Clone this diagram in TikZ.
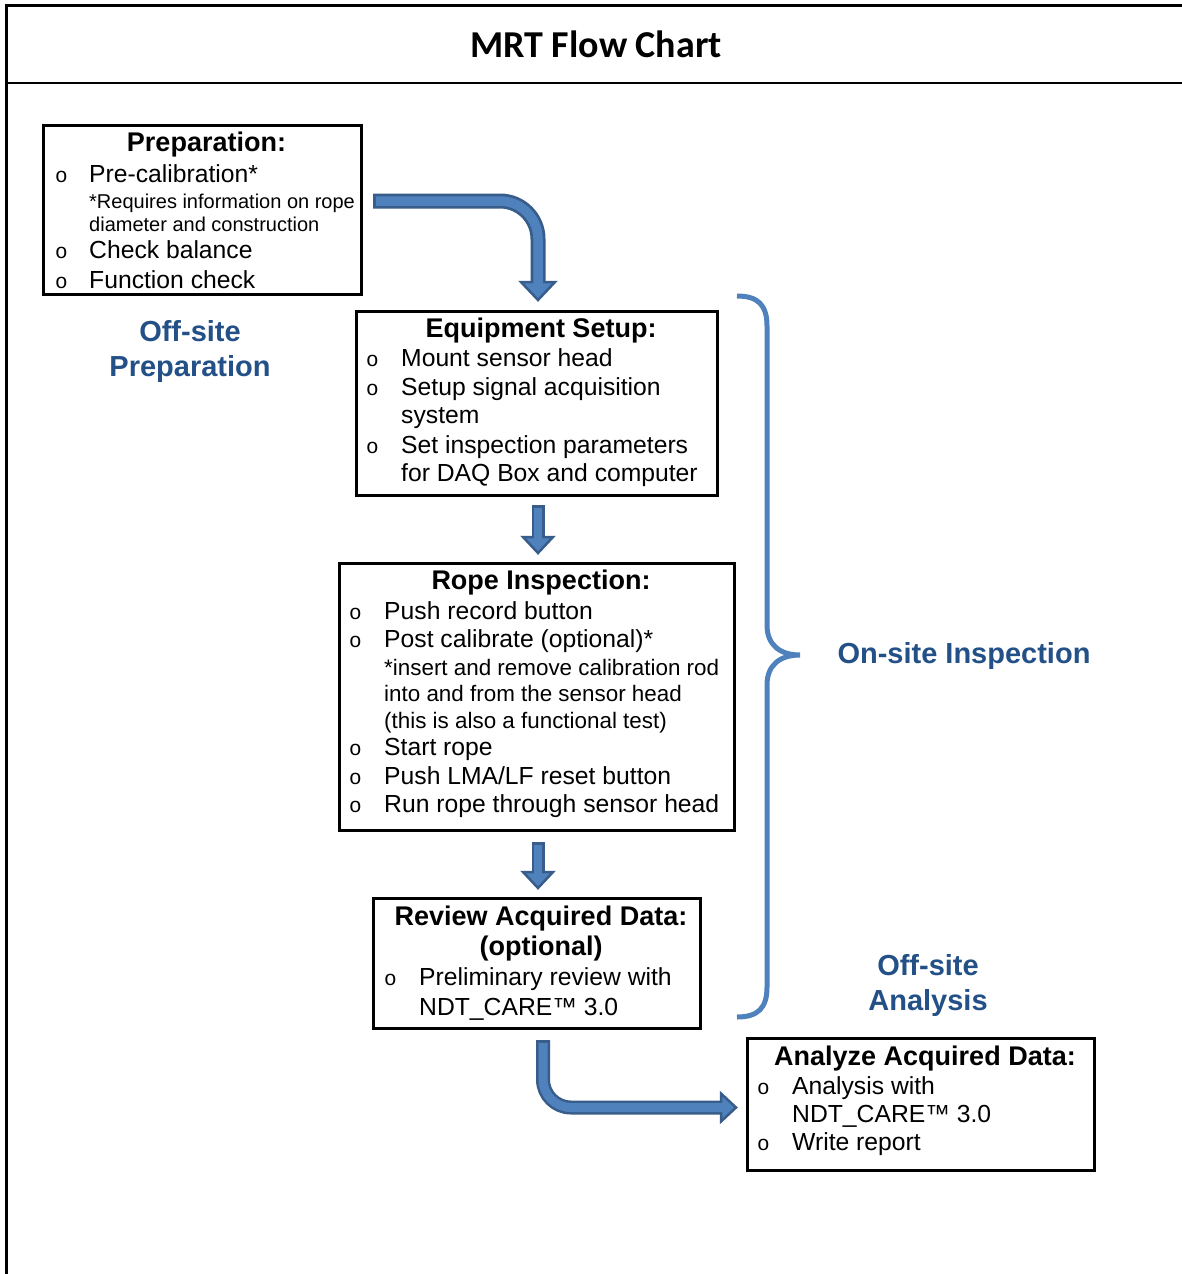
\documentclass[tikz,border=0pt]{standalone}
\usepackage{fontspec}
\setmainfont{Liberation Sans}
\newfontfamily\titlefont{Carlito}
\newfontfamily\bulletfont{Liberation Mono}
\usetikzlibrary{calc}
\definecolor{arrowfill}{HTML}{4F81BD}
\definecolor{arrowline}{HTML}{385D8A}
\definecolor{bracecol}{HTML}{4F81BD}
\definecolor{labelblue}{RGB}{35,80,135}
\tikzset{
  box/.style={draw=black, line width=3pt, inner sep=0pt},
  headtxt/.style={font=\bfseries\fontsize{27}{30}\selectfont, anchor=base, inner sep=0pt},
  itm/.style={font=\fontsize{24.7}{28}\selectfont, anchor=base west, inner sep=0pt},
  notetxt/.style={font=\fontsize{22.4}{25}\selectfont, anchor=base west, inner sep=0pt},
  smallnote/.style={font=\fontsize{20}{23}\selectfont, anchor=base west, inner sep=0pt},
  bul/.style={font=\bulletfont\fontsize{21}{23}\selectfont, anchor=base west, inner sep=0pt},
  lbl/.style={font=\bfseries\fontsize{29}{32}\selectfont, text=labelblue, anchor=base, inner sep=0pt},
  shaftout/.style={draw=arrowline, line width=#1},
  shaftin/.style={draw=arrowfill, line width=#1, shorten <=2.75pt, shorten >=-3pt},
  headst/.style={fill=arrowfill, draw=arrowline, line width=2.5pt, line join=miter},
}
\begin{document}
\begin{tikzpicture}[x=1pt, y=-1pt]
\useasboundingbox (0,0) rectangle (1182,1274);
\fill[white] (0,0) rectangle (1182,1274);
% frame
\draw[line width=3pt] (6,1274) -- (6,5) -- (1182,5);
\draw[line width=2.5pt] (6,83) -- (1182,83);
\node[font=\titlefont\bfseries\fontsize{38}{40}\selectfont, anchor=base, inner sep=0pt] (title) at (596,57) {MRT Flow Chart};

% boxes
\node[box, minimum width=318pt, minimum height=169pt] (prep) at (202.5,210) {};
\node[box, minimum width=361pt, minimum height=184pt] (equip) at (537,403.5) {};
\node[box, minimum width=395pt, minimum height=267pt] (rope) at (537,697) {};
\node[box, minimum width=327pt, minimum height=130pt] (review) at (537,963.5) {};
\node[box, minimum width=347pt, minimum height=132pt] (analyze) at (921,1104.5) {};

% Preparation
\node[headtxt] (ph) at (206.5,151.7) {Preparation:};
\node[bul] (pb1) at (55,182.7) {o};
\node[itm] (p1) at (89,182.7) {Pre-calibration*};
\node[smallnote] (pn1) at (89,208.3) {*Requires information on rope};
\node[smallnote] (pn2) at (89,231) {diameter and construction};
\node[bul] (pb2) at (55,258) {o};
\node[itm] (p2) at (89,258) {Check balance};
\node[bul] (pb3) at (55,288) {o};
\node[itm] (p3) at (89,288) {Function check};

% Equipment setup
\node[headtxt] (eh) at (541,337.3) {Equipment Setup:};
\node[bul] (eb1) at (366,366.7) {o};
\node[itm] (e1) at (401,366.7) {Mount sensor head};
\node[bul] (eb2) at (366,395) {o};
\node[itm] (e2) at (401,395) {Setup signal acquisition};
\node[itm] (e2b) at (401,423.3) {system};
\node[bul] (eb3) at (366,453.3) {o};
\node[itm] (e3) at (401,453.3) {Set inspection parameters};
\node[itm] (e3b) at (401,481.7) {for DAQ Box and computer};

% Rope inspection
\node[headtxt] (rh) at (541,589.3) {Rope Inspection:};
\node[bul] (rb1) at (349,619) {o};
\node[itm] (r1) at (384,619) {Push record button};
\node[bul] (rb2) at (349,647.3) {o};
\node[itm] (r2) at (384,647.3) {Post calibrate (optional)*};
\node[notetxt] (rn1) at (384,675.7) {*insert and remove calibration rod};
\node[notetxt] (rn2) at (384,701.7) {into and from the sensor head};
\node[notetxt] (rn3) at (384,728.3) {(this is also a functional test)};
\node[bul] (rb3) at (349,755) {o};
\node[itm] (r3) at (384,755) {Start rope};
\node[bul] (rb4) at (349,784.3) {o};
\node[itm] (r4) at (384,784.3) {Push LMA/LF reset button};
\node[bul] (rb5) at (349,812.7) {o};
\node[itm] (r5) at (384,812.7) {Run rope through sensor head};

% Review
\node[headtxt] (vh1) at (541,925) {Review Acquired Data:};
\node[headtxt] (vh2) at (541,955) {(optional)};
\node[bul] (vb1) at (384,985.7) {o};
\node[itm] (v1) at (419,985.7) {Preliminary review with};
\node[itm] (v1b) at (419,1015) {NDT\_CARE™ 3.0};

% Analyze
\node[headtxt] (ah) at (925,1065) {Analyze Acquired Data:};
\node[bul] (ab1) at (757,1094) {o};
\node[itm] (a1) at (792,1094) {Analysis with};
\node[itm] (a1b) at (792,1122.7) {NDT\_CARE™ 3.0};
\node[bul] (ab2) at (757,1150.7) {o};
\node[itm] (a2) at (792,1150.7) {Write report};

% labels
\node[lbl] (l1a) at (190,341) {Off-site};
\node[lbl] (l1b) at (190,376) {Preparation};
\node[lbl] (l2) at (964,663) {On-site Inspection};
\node[lbl] (l3a) at (928,975.7) {Off-site};
\node[lbl] (l3b) at (928,1010) {Analysis};

% brace
\draw[bracecol, line width=5pt] (737,296) .. controls (758,296) and (767,305) .. (767,326)
  -- (767,625) .. controls (767,645) and (780,655) .. (800,655)
  .. controls (780,655) and (767,665) .. (767,685)
  -- (767,987) .. controls (767,1008) and (758,1017) .. (737,1017);

% arrow 1: prep -> equip
\coordinate (a1s) at ($(prep.east)+(10,-9)$);
\coordinate (a1t) at ($(equip.north)+(1,-10)$);
\coordinate (a1h) at ($(a1t)+(0,-18)$);
\draw[shaftout=15pt, rounded corners=38pt] (a1s) -| (a1h);
\filldraw[headst] ($(a1h)+(-17,0)$) -- (a1t) -- ($(a1h)+(17,0)$) -- cycle;
\draw[shaftin=9.5pt, rounded corners=38pt] (a1s) -| (a1h);

% arrow 2: equip -> rope
\coordinate (a2s) at ($(equip.south)+(1,8)$);
\coordinate (a2t) at ($(rope.north)+(1,-9)$);
\coordinate (a2h) at ($(a2t)+(0,-16)$);
\draw[shaftout=13pt] (a2s) -- (a2h);
\filldraw[headst] ($(a2h)+(-15,0)$) -- (a2t) -- ($(a2h)+(15,0)$) -- cycle;
\draw[shaftin=8pt] (a2s) -- (a2h);

% arrow 3: rope -> review
\coordinate (a3s) at ($(rope.south)+(1,10)$);
\coordinate (a3t) at ($(review.north)+(1,-9)$);
\coordinate (a3h) at ($(a3t)+(0,-16)$);
\draw[shaftout=13pt] (a3s) -- (a3h);
\filldraw[headst] ($(a3h)+(-15,0)$) -- (a3t) -- ($(a3h)+(15,0)$) -- cycle;
\draw[shaftin=8pt] (a3s) -- (a3h);

% arrow 4: review -> analyze
\coordinate (a4s) at ($(review.south)+(6,10)$);
\coordinate (a4t) at ($(analyze.west)+(-10,3)$);
\coordinate (a4h) at ($(a4t)+(-15,0)$);
\draw[shaftout=14pt, rounded corners=28pt] (a4s) |- (a4h);
\filldraw[headst] ($(a4h)+(0,-14)$) -- (a4t) -- ($(a4h)+(0,14)$) -- cycle;
\draw[shaftin=9pt, rounded corners=28pt] (a4s) |- (a4h);
\end{tikzpicture}
\end{document}
